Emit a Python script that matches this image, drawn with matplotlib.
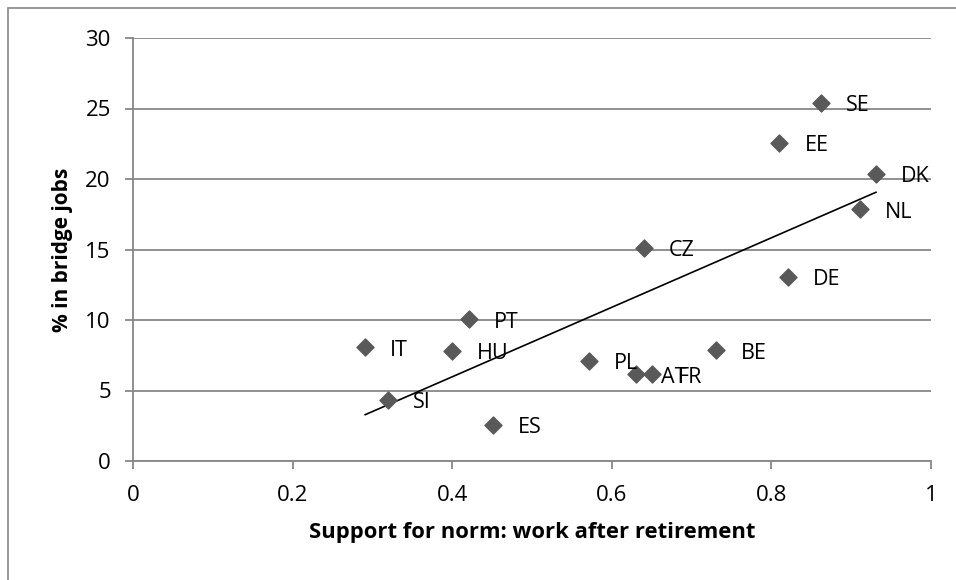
import numpy as np
import matplotlib
matplotlib.use("Agg")
import matplotlib.pyplot as plt
from matplotlib.patches import Rectangle

# ======================================================
# DATA
# ======================================================

countries = ["SE", "EE", "DK", "NL", "CZ", "DE", "PT", "IT",
             "HU", "PL", "AT", "FR", "BE", "SI", "ES"]

support = [0.862, 0.810, 0.931, 0.911, 0.640, 0.821, 0.421, 0.291,
           0.400, 0.571, 0.630, 0.651, 0.731, 0.320, 0.451]

bridge = [25.4, 22.55, 20.37, 17.85, 15.12, 13.05, 10.05, 8.05,
          7.8, 7.09, 6.15, 6.15, 7.85, 4.33, 2.57]

x_ticks = [0, 0.2, 0.4, 0.6, 0.8, 1]
x_tick_labels = ["0", "0.2", "0.4", "0.6", "0.8", "1"]
y_ticks = [0, 5, 10, 15, 20, 25, 30]

# ======================================================
# STYLE
# ======================================================

plt.rcParams["font.family"] = ["Open Sans", "DejaVu Sans"]

GRID = "#878787"
MARK = "#595959"

fig = plt.figure(figsize=(9.56, 5.8), dpi=100)
ax = fig.add_axes([133 / 956, 1 - 461 / 580, 798 / 956, 423 / 580])

# outer chart border (right/bottom run off the image)
fig.patches.append(
    Rectangle((8 / 956, -0.1), 2, 1 - 8 / 580 + 0.1,
              transform=fig.transFigure, fill=False,
              edgecolor=GRID, linewidth=1.2, clip_on=False)
)

# ======================================================
# PLOT
# ======================================================

ax.scatter(support, bridge, marker="D", s=75, color=MARK,
           edgecolors=MARK, zorder=3)

for name, xv, yv in zip(countries, support, bridge):
    ax.annotate(name, (xv, yv), xytext=(18, -2),
                textcoords="offset points", ha="left", va="center",
                fontsize=15.5, color="black", zorder=4)

# linear trend line
coef = np.polyfit(support, bridge, 1)
xs = np.array([min(support), max(support)])
ax.plot(xs, np.polyval(coef, xs), color="black", linewidth=1.2, zorder=2)

ax.set_xlim(0, 1)
ax.set_ylim(0, 30)
ax.set_xticks(x_ticks)
ax.set_xticklabels(x_tick_labels)
ax.set_yticks(y_ticks)

ax.grid(axis="y", color=GRID, linewidth=1.3)
ax.set_axisbelow(True)

for side in ["top", "right"]:
    ax.spines[side].set_visible(False)
for side in ["left", "bottom"]:
    ax.spines[side].set_color(GRID)
    ax.spines[side].set_linewidth(1.3)

ax.tick_params(axis="both", color=GRID, width=1.3, length=6,
               labelsize=16, labelcolor="black")
ax.tick_params(axis="x", pad=11)
ax.tick_params(axis="y", pad=10)

ax.set_xlabel("Support for norm: work after retirement",
              fontsize=15.8, fontweight="bold", labelpad=12)
ax.set_ylabel("% in bridge jobs", fontsize=15, fontweight="bold",
              labelpad=9)

fig.savefig("out.png", dpi=100)
